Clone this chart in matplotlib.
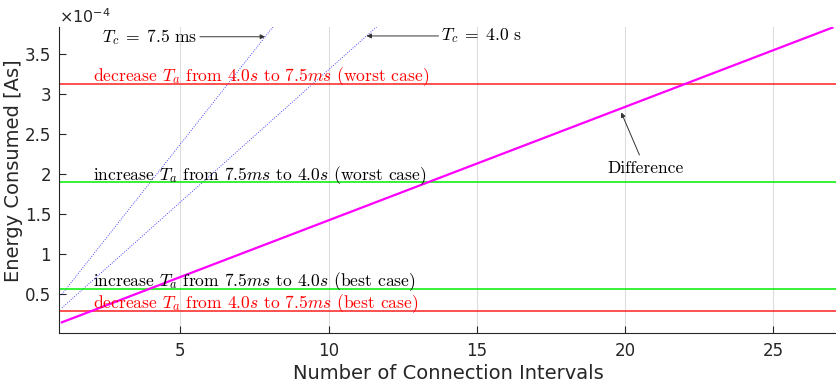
import numpy as np
import matplotlib
matplotlib.use('Agg')
import matplotlib.pyplot as plt
from matplotlib.ticker import FuncFormatter

plt.rcParams['font.family'] = ['DejaVu Sans']
plt.rcParams['mathtext.fontset'] = 'dejavusans'

# 資料 (單位: 1e-4 As)
n_diff = [1, 27]
e_diff = [0.15, 3.83]          # Difference (magenta)

n_fast = [1, 27]
e_fast = [0.50, 12.69]         # T_c = 7.5 ms

n_slow = [1, 27]
e_slow = [0.33, 8.92]          # T_c = 4.0 s

dec_worst = 3.125
inc_worst = 1.896
inc_best = 0.57
dec_best = 0.29

xticks = [5, 10, 15, 20, 25]
yticks = [0.5, 1, 1.5, 2, 2.5, 3, 3.5]

fig = plt.figure(figsize=(8.37, 3.87), dpi=100)
ax = fig.add_axes([59.5 / 837, 1 - 333.3 / 387, (837 - 59.5) / 837, (333.3 - 27.3) / 387])

dark = '#262626'

ax.plot(n_fast, e_fast, color='#3030ff', lw=0.65, ls=':')
ax.plot(n_slow, e_slow, color='#3030ff', lw=0.65, ls=':')

ax.axhline(dec_worst, color='#ff2020', lw=1.1)
ax.axhline(inc_worst, color='#00ee00', lw=1.1)
ax.axhline(inc_best, color='#00ee00', lw=1.1)
ax.axhline(dec_best, color='#ff2020', lw=1.1)

ax.plot(n_diff, e_diff, color='#ff00ff', lw=1.6)

ax.set_xlim(0.92, 27.15)
ax.set_ylim(0.013, 3.833)
ax.set_xticks(xticks)
ax.set_yticks(yticks)
ax.yaxis.set_major_formatter(FuncFormatter(lambda v, p: f'{v:g}'))

# 指數標示
ax.text(0.0, 1.005, r'$\times10^{-4}$', transform=ax.transAxes, ha='left', va='bottom',
        fontsize=11.5, color=dark)

ax.grid(axis='x', color='#dcdcdc', lw=0.8)
ax.set_axisbelow(True)
for s in ['top', 'right']:
    ax.spines[s].set_visible(False)
for s in ['left', 'bottom']:
    ax.spines[s].set_color(dark)
    ax.spines[s].set_linewidth(0.8)
ax.tick_params(direction='in', length=5, width=0.8, colors=dark, labelsize=12, pad=6)

ax.set_xlabel('Number of Connection Intervals', fontsize=14, color=dark, labelpad=3)
ax.set_ylabel('Energy Consumed [As]', fontsize=14, color=dark)
ax.yaxis.set_label_coords(-0.047, 0.532)

tkw = dict(family='cmr10', math_fontfamily='cm', fontsize=12.6)
tx = 2.05
ax.text(tx, dec_worst + 0.03,
        r'decrease $T_a$ from $4.0s$ to $7.5ms$ (worst case)', color='#ff0000', va='baseline', **tkw)
ax.text(tx, inc_worst + 0.03,
        r'increase $T_a$ from $7.5ms$ to $4.0s$ (worst case)', color='black', va='baseline', **tkw)
ax.text(tx, inc_best + 0.035,
        r'increase $T_a$ from $7.5ms$ to $4.0s$ (best case)', color='black', va='baseline', **tkw)
ax.text(tx, dec_best + 0.035,
        r'decrease $T_a$ from $4.0s$ to $7.5ms$ (best case)', color='#ff0000', va='baseline', **tkw)

akw = dict(arrowstyle='-|>', color='#333333', lw=0.7, mutation_scale=7, shrinkA=0, shrinkB=0)

y_arrow = 3.715
x_tip = np.interp(y_arrow, e_fast, n_fast)
ax.annotate(r'$T_c\;=\;7.5\ \mathrm{ms}$', xy=(x_tip, y_arrow), xytext=(2.35, y_arrow),
            ha='left', va='center', arrowprops=dict(relpos=(1, 0.5), **akw), **tkw)

y_arrow2 = 3.725
x_tip2 = np.interp(y_arrow2, e_slow, n_slow)
ax.annotate(r'$T_c\;=\;4.0\ \mathrm{s}$', xy=(x_tip2, y_arrow2), xytext=(13.8, y_arrow2),
            ha='left', va='center', arrowprops=dict(relpos=(0, 0.5), **akw), **tkw)

x_d = 19.87
y_d = np.interp(x_d, n_diff, e_diff) - 0.05
ax.annotate('Difference', xy=(x_d, y_d), xytext=(20.69, 2.077),
            ha='center', va='center', arrowprops=dict(relpos=(0.45, 1), **dict(akw, shrinkA=2)), **tkw)

fig.savefig('out.png', dpi=100)
